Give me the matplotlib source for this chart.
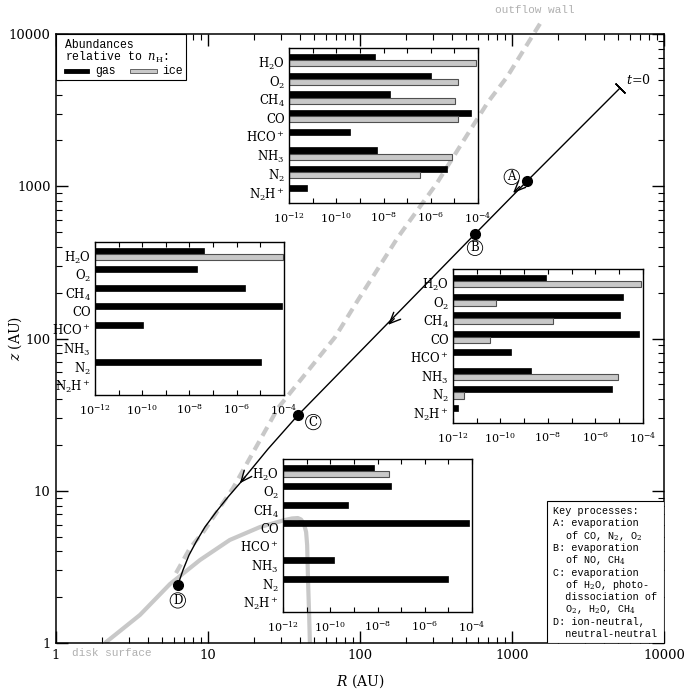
import matplotlib.pyplot as plt
import numpy as np
from matplotlib.patches import Rectangle

plt.rcParams['font.family'] = 'DejaVu Serif'
plt.rcParams['mathtext.fontset'] = 'dejavuserif'

GREY = '#c8c8c8'
MONO = 'Liberation Mono'

# parcel trajectory (R, z in AU)
traj_R = [5136, 1256, 571, 39.1, 24.8, 16.2, 13.54, 11.29, 9.55, 8.34, 7.50, 6.85, 6.33]
traj_z = [4418, 1082, 486, 31.4, 18.8, 11.2, 9.10, 7.25, 5.78, 4.61, 3.78, 3.02, 2.40]

point_names = ['A', 'B', 'C', 'D']
point_R = [1256, 571, 39.1, 6.33]
point_z = [1082, 486, 31.4, 2.40]
point_offsets = [(-11, 3), (0, -10), (11, -5), (0, -11)]

# arrow heads along the path: tip and a point just upstream of it
arrow_tip_R = [1016, 153, 16.2]
arrow_tip_z = [903, 123, 11.2]
arrow_tail_R = [1120, 168, 17.5]
arrow_tail_z = [995, 135, 12.3]

# outflow wall and disk surface
wall_R = [6.16, 7.62, 9.41, 14.6, 28.9, 68.5, 97, 178, 321, 469, 695, 927, 1374, 1552]
wall_z = [2.88, 4.21, 5.44, 10.4, 35.0, 102, 179, 464, 1050, 1923, 3575, 5220, 9850, 11990]

disk_R = [2.10, 3.57, 5.62, 8.86, 13.9, 22.0, 32.1, 35.7, 39.0, 40.9, 42.8, 44.2, 44.9, 45.5, 46.3, 46.8]
disk_z = [1.0, 1.53, 2.44, 3.51, 4.75, 5.78, 6.43, 6.58, 6.62, 6.48, 6.05, 5.36, 4.40, 2.59, 1.5, 1.0]

# abundances relative to n_H (nan = not shown)
species = ['H$_2$O', 'O$_2$', 'CH$_4$', 'CO', 'HCO$^+$', 'NH$_3$', 'N$_2$', 'N$_2$H$^+$']
nan = np.nan
gas_top = [4.5e-9, 1.0e-6, 1.9e-8, 5.0e-5, 3.8e-10, 5.1e-9, 4.7e-6, 5.6e-12]
ice_top = [8.5e-5, 1.4e-5, 1.1e-5, 1.45e-5, nan, 8.1e-6, 3.6e-7, nan]
gas_right = [7.9e-9, 1.5e-5, 1.1e-5, 6.6e-5, 2.8e-10, 1.9e-9, 5.2e-6, 1.6e-12]
ice_right = [8.3e-5, 6.2e-11, 1.6e-8, 3.5e-11, nan, 8.7e-6, 2.9e-12, nan]
gas_left = [4.0e-8, 2.1e-8, 2.3e-6, 8.5e-5, 1.05e-10, nan, 1.07e-5, nan]
ice_left = [9.5e-5, nan, nan, nan, nan, nan, nan, nan]
gas_bottom = [6.8e-9, 3.8e-8, 5.8e-10, 7.8e-5, nan, 1.5e-10, 9.8e-6, nan]
ice_bottom = [3.1e-8, nan, nan, nan, nan, nan, nan, nan]

key_lines = ['Key processes:',
             'A: evaporation', '  of CO, N$_2$, O$_2$',
             'B: evaporation', '  of NO, CH$_4$',
             'C: evaporation', '  of H$_2$O, photo-', '  dissociation of',
             '  O$_2$, H$_2$O, CH$_4$',
             'D: ion-neutral,', '  neutral-neutral']

fig = plt.figure(figsize=(7, 7), dpi=100)
ax = fig.add_axes([0.08, 0.0814, 0.8686, 0.87])
ax.set_xscale('log')
ax.set_yscale('log')
ax.set_xlim(1, 1e4)
ax.set_ylim(1, 1e4)
ax.set_xticks([1, 10, 100, 1000, 10000])
ax.set_xticklabels(['1', '10', '100', '1000', '10000'])
ax.set_yticks([1, 10, 100, 1000, 10000])
ax.set_yticklabels(['1', '10', '100', '1000', '10000'])
ax.tick_params(which='both', direction='in', top=True, right=True, labelsize=9.5)
ax.tick_params(which='major', length=8.5, width=1, pad=4)
ax.tick_params(which='minor', length=4.3, width=0.8)
for s in ax.spines.values():
    s.set_linewidth(1.1)
ax.set_xlabel('$R$ (AU)', fontsize=10, labelpad=8)
ax.set_ylabel('$z$ (AU)', fontsize=10)
ax.yaxis.set_label_coords(-0.053, 0.5)

ax.plot(disk_R, disk_z, color=GREY, lw=3, solid_capstyle='butt', zorder=1)
ax.plot(wall_R, wall_z, color=GREY, lw=3, dashes=(2.4, 1.5), clip_on=False, zorder=1)
ax.plot(traj_R, traj_z, color='black', lw=1, zorder=3)
ax.plot(traj_R[0], traj_z[0], marker=(2, 2, 45), ms=10, mec='black', mew=1, zorder=3)
ax.annotate('$t$=0', (traj_R[0], traj_z[0]), xytext=(4, 6), textcoords='offset points',
            ha='left', va='center', fontsize=9)

for i in range(len(arrow_tip_R)):
    ax.annotate('', xy=(arrow_tip_R[i], arrow_tip_z[i]),
                xytext=(arrow_tail_R[i], arrow_tail_z[i]),
                arrowprops=dict(arrowstyle='->,head_length=0.8,head_width=0.35',
                                lw=1, color='black', shrinkA=0, shrinkB=0), zorder=3)

ax.plot(point_R, point_z, 'o', color='black', ms=7, zorder=4)
for name, r, z, off in zip(point_names, point_R, point_z, point_offsets):
    ax.annotate(name, (r, z), xytext=off, textcoords='offset points',
                ha='center', va='center', fontsize=8.5,
                bbox=dict(boxstyle='circle,pad=0.1', fc='white', ec='black', lw=0.6))

fig.text(0.764, 0.986, 'outflow wall', color='#b0b0b0', family=MONO, fontsize=8,
         ha='center', va='center')
fig.text(0.159, 0.067, 'disk surface', color='#b0b0b0', family=MONO, fontsize=8,
         ha='center', va='center')

# legend box, upper left
ax.add_patch(Rectangle((0, 0.9245), 0.2138, 0.0755, transform=ax.transAxes,
                       fc='white', ec='black', lw=0.8, zorder=6))
ax.text(0.0148, 0.982, 'Abundances', transform=ax.transAxes, family=MONO,
        fontsize=8.3, va='center', zorder=7)
ax.text(0.0148, 0.961, 'relative to $n_{\\rm H}$:', transform=ax.transAxes, family=MONO,
        fontsize=8.3, va='center', zorder=7)
ax.add_patch(Rectangle((0.0132, 0.936), 0.041, 0.0065, transform=ax.transAxes,
                       fc='black', ec='black', lw=0.6, zorder=7))
ax.text(0.064, 0.939, 'gas', transform=ax.transAxes, family=MONO, fontsize=8.3,
        va='center', zorder=7)
ax.add_patch(Rectangle((0.1217, 0.936), 0.0443, 0.0065, transform=ax.transAxes,
                       fc=GREY, ec='#505050', lw=0.6, zorder=7))
ax.text(0.174, 0.939, 'ice', transform=ax.transAxes, family=MONO, fontsize=8.3,
        va='center', zorder=7)

# key processes box, lower right
ax.add_patch(Rectangle((0.8076, 0), 0.1924, 0.2332, transform=ax.transAxes,
                       fc='white', ec='black', lw=0.8, zorder=6))
for i, line in enumerate(key_lines):
    y = (643 - (511 + i * 12.3)) / 609
    ax.text(0.8175, y, line, transform=ax.transAxes, family=MONO, fontsize=7.3,
            va='center', zorder=7)

# abundance insets
insets = [([0.4129, 0.71, 0.27, 0.2214], gas_top, ice_top),
          ([0.6471, 0.3957, 0.2714, 0.22], gas_right, ice_right),
          ([0.1357, 0.4357, 0.27, 0.2186], gas_left, ice_left),
          ([0.4043, 0.1257, 0.27, 0.2186], gas_bottom, ice_bottom)]
pos = np.arange(len(species))
h = 0.33
for rect, gas, ice in insets:
    ia = fig.add_axes(rect, facecolor='none')
    ia.set_xscale('log')
    ia.barh(pos - h / 2, np.array(gas) - 1e-12, left=1e-12, height=h,
            color='black', edgecolor='black', lw=0.5)
    ia.barh(pos + h / 2, np.array(ice) - 1e-12, left=1e-12, height=h,
            color=GREY, edgecolor='#505050', lw=0.8)
    ia.set_xlim(1e-12, 1e-4)
    ia.set_ylim(7.65, -0.65)
    ia.set_xticks([10.0 ** e for e in range(-12, -3)])
    ia.set_xticklabels(['$10^{%d}$' % e if e % 2 == 0 else '' for e in range(-12, -3)])
    ia.xaxis.set_minor_locator(plt.NullLocator())
    ia.tick_params(axis='x', direction='in', top=True, length=3.5, width=0.8,
                   labelsize=8, pad=5)
    ia.set_yticks(pos + 0.1)
    ia.set_yticklabels(species)
    ia.tick_params(axis='y', length=0, labelsize=8.5, pad=3)
    for s in ia.spines.values():
        s.set_linewidth(1)

fig.savefig('out.png', dpi=100)
